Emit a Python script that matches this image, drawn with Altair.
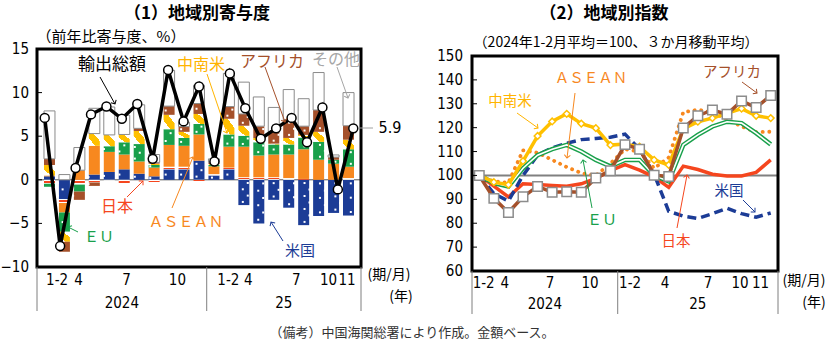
import math
import altair as alt
import pandas as pd

# ---------------- Left panel: contributions (% pt), 2024/1-2 ... 2025/11 ----------------
periods = list(range(21))
left_categories = ["米国", "日本", "ASEAN", "EU", "中南米", "アフリカ", "その他"]
us     = [0.4, -2.2, 0.0, 0.6, 0.9, 1.2, 0.7, 0.4, 1.2, 1.2, 2.2, 0.5, 1.2, -2.9, -5.0, -2.3, -3.2, -5.2, -4.15, -3.8, -4.1]
jp     = [-0.45, -0.45, -0.55, -0.3, -0.1, -0.5, 0.0, -0.3, 0.3, 0.3, -0.2, 0.15, 0.2, 0.3, 0.3, 0.3, 0.2, 0.1, 0.0, 0.0, 0.2]
asean  = [0.1, -1.1, 1.1, 3.3, 2.3, 1.7, 1.4, 1.0, 2.5, 2.4, 3.0, 0.9, 2.4, 3.5, 2.5, 2.6, 2.7, 3.4, 2.3, 1.85, 1.3]
eu     = [-0.35, -2.2, -0.8, 0.0, 0.65, 1.4, 2.0, 0.3, 1.8, 0.9, 1.2, 0.15, 1.4, 1.25, 1.5, 1.15, 1.15, 1.35, 2.05, 0.45, 2.0]
latam  = [1.2, -1.15, 0.0, 1.4, 1.3, 0.9, 1.5, 0.15, 1.65, 0.7, 1.15, 0.1, 1.8, 1.15, 0.5, 0.1, 0.75, 0.3, 1.15, 0.0, 1.1]
africa = [0.7, -1.15, -0.95, -0.4, 0.0, 0.0, 0.3, 0.15, 1.0, 0.6, 1.2, 0.2, 1.4, 1.35, 1.35, 1.35, 2.1, 1.0, 2.5, 0.3, 1.6]
other  = [5.5, 0.6, 2.6, 2.9, 3.2, 2.2, 2.7, 0.9, 4.1, 0.5, 2.1, 0.4, 3.8, 3.65, 3.35, 2.8, 3.45, 3.15, 4.3, 0.25, 3.8]
total  = [7.1, -7.6, 1.35, 7.5, 8.4, 7.0, 8.7, 2.4, 12.6, 6.7, 10.7, 2.1, 12.2, 8.2, 4.7, 5.9, 7.1, 4.3, 8.3, -1.1, 5.9]

# ---------------- Right panel: index (2024/1-2 = 100, 3-month moving average) ----------------
idx_us     = [100, 92.4, 89.3, 100.0, 108.5, 111.5, 113.5, 115.0, 115.5, 116.0, 117.3, 111.0, 100.5, 85.0, 83.0, 82.0, 84.0, 86.3, 84.0, 82.5, 84.3]
idx_jp     = [100, 95.5, 91.0, 96.5, 96.2, 95.8, 95.5, 96.5, 98.8, 102.0, 104.5, 102.2, 99.4, 95.0, 103.9, 102.5, 100.5, 99.8, 99.8, 101.3, 106.5]
idx_asean  = [100, 97.5, 97.0, 110.5, 109.5, 106.5, 103.5, 101.0, 100.0, 105.0, 111.0, 110.0, 103.0, 107.5, 126.5, 127.5, 126.5, 123.5, 120.5, 118.2, 118.3]
idx_eu     = [100, 96.8, 95.4, 103.0, 108.5, 111.0, 112.8, 110.0, 106.5, 103.8, 106.5, 106.5, 100.0, 97.5, 112.8, 117.0, 120.5, 122.5, 121.9, 117.7, 113.0]
idx_latam  = [100, 97.2, 96.1, 106.0, 116.5, 122.6, 125.8, 121.7, 119.8, 112.7, 113.2, 112.0, 106.5, 104.4, 119.5, 122.5, 124.0, 126.0, 128.0, 125.0, 124.0]
idx_africa = [100, 90.4, 84.5, 91.1, 95.4, 93.0, 93.2, 93.0, 98.9, 102.0, 112.9, 111.0, 100.1, 99.6, 119.9, 125.0, 127.4, 125.6, 131.2, 128.4, 133.5]

# ---------------- Axis text ----------------
month_labels = ["1-2", "4", "7", "10", "1-2", "4", "7", "10", "11"]
left_month_pos = [0.8, 2.2, 5.3, 8.6, 11.9, 13.2, 16.3, 18.4, 19.6]
right_month_pos = [0.3, 1.75, 4.85, 7.6, 10.35, 12.75, 15.7, 17.9, 19.3]
year_labels = ["2024", "25"]
left_year_div = [-0.5, 10.5, 20.5]
right_year_div = [-0.5, 9.5, 20.5]
left_yticks = [-10, -5, 0, 5, 10, 15]
right_yticks = [60, 70, 80, 90, 100, 110, 120, 130, 140, 150]

# ---------------- Styling / layout ----------------
W, H = 829, 342
LX0, LX1, LY0, LY1 = 37, 361, 267, 49
RX0, RX1, RY0, RY1 = 472, 778, 271, 56
CJK = "Noto Sans CJK JP"
NUM = "Liberation Sans Narrow, Arial Narrow, DejaVu Sans Condensed, Liberation Sans, sans-serif"
NAVY, RED, ORANGE, GREEN, YELLOW, BROWN, GRAY = "#1c3c96", "#f5461e", "#f7881f", "#19a04b", "#ffc000", "#a5502a", "#a6a6a6"

XL = alt.Scale(domain=[-0.5, 20.5], range=[LX0, LX1])
YL = alt.Scale(domain=[-10, 15], range=[LY0, LY1])
XR = alt.Scale(domain=[-0.5, 20.5], range=[RX0, RX1])
YR = alt.Scale(domain=[60, 150], range=[RY0, RY1])

series_left = [us, jp, asean, eu, latam, africa, other]
rows = []
for k, (name, vals) in enumerate(zip(left_categories, series_left)):
    for i, v in zip(periods, vals):
        if v != 0:
            rows.append({"idx": i, "cat": name, "order": k, "value": v})
df_left = pd.DataFrame(rows)
df_total = pd.DataFrame({"idx": periods, "total": total})

stacked = alt.Chart(df_left).transform_stack(
    stack="value", groupby=["idx"], as_=["v0", "v1"],
    sort=[alt.SortField(field="order", order="ascending")])


def grad(stops, x1=0, y1=0, x2=0, y2=1):
    return alt.LinearGradient(gradient="linear", x1=x1, y1=y1, x2=x2, y2=y2,
                              stops=[alt.GradientStop(offset=o, color=c) for o, c in stops])


def seg(cat, **kw):
    return stacked.transform_filter(alt.datum.cat == cat).mark_bar(size=11, **kw).encode(
        x=alt.X("idx:Q", scale=XL, axis=None),
        y=alt.Y("v0:Q", scale=YL, axis=None),
        y2="v1:Q")


jp_fill = grad([(0, "white"), (0.3, "white"), (0.3, RED), (0.7, RED), (0.7, "white"), (1, "white")])
la_fill = grad([(0, "white"), (0.3, "white"), (0.3, YELLOW), (0.7, YELLOW), (0.7, "white"), (1, "white")],
               x1=0, y1=1, x2=1, y2=0)

bars = [
    seg("米国", fill=NAVY),
    seg("日本", fill=jp_fill),
    seg("ASEAN", fill=ORANGE),
    seg("EU", fill=GREEN),
    seg("中南米", fill=la_fill),
    seg("アフリカ", fill=BROWN),
    seg("その他", fill="white", stroke="#8a8a8a", strokeWidth=1),
]

dots = stacked.transform_filter(
    alt.FieldOneOfPredicate(field="cat", oneOf=["米国", "EU", "アフリカ"])
).transform_calculate(
    lo="min(datum.v0, datum.v1)", hi="max(datum.v0, datum.v1)"
).transform_calculate(
    n="(datum.hi - datum.lo) < 0.3 ? 0 : max(1, round((datum.hi - datum.lo) / 0.8))"
).transform_calculate(
    seq="sequence(0, datum.n)"
).transform_flatten(["seq"]).transform_calculate(
    dy="datum.lo + (datum.seq + 0.5) * (datum.hi - datum.lo) / datum.n",
    dx="datum.idx + (datum.seq % 2 == 0 ? -0.16 : 0.16)"
).mark_square(size=4, color="white", opacity=1).encode(
    x=alt.X("dx:Q", scale=XL, axis=None), y=alt.Y("dy:Q", scale=YL, axis=None))

zero_line = alt.Chart(pd.DataFrame({"v": [0]})).mark_rule(color="#555555", strokeWidth=1).encode(
    x=alt.value(LX0), x2=alt.value(LX1), y=alt.Y("v:Q", scale=YL, axis=None))

total_line = alt.Chart(df_total).mark_line(color="black", strokeWidth=3.5).encode(
    x=alt.X("idx:Q", scale=XL, axis=None), y=alt.Y("total:Q", scale=YL, axis=None))
total_pts = alt.Chart(df_total).mark_point(filled=True, fill="white", stroke="black", strokeWidth=1.5,
                                           size=80, opacity=1).encode(
    x=alt.X("idx:Q", scale=XL, axis=None), y=alt.Y("total:Q", scale=YL, axis=None))

# ---------------- Right panel ----------------
rrows = []
for name, vals in [("US", idx_us), ("JP", idx_jp), ("ASEAN", idx_asean), ("EU", idx_eu),
                   ("LATAM", idx_latam), ("AFRICA", idx_africa)]:
    for i, v in zip(periods, vals):
        rrows.append({"idx": i, "s": name, "v": v})
df_right = pd.DataFrame(rrows)


def rchart(name):
    return alt.Chart(df_right).transform_filter(alt.datum.s == name)


def renc():
    return dict(x=alt.X("idx:Q", scale=XR, axis=None), y=alt.Y("v:Q", scale=YR, axis=None))


base100 = alt.Chart(pd.DataFrame({"v": [100]})).mark_rule(color="#808080", strokeWidth=2).encode(
    x=alt.value(RX0), x2=alt.value(RX1), y=alt.Y("v:Q", scale=YR, axis=None))

right_layers = [
    base100,
    rchart("JP").mark_line(color=RED, strokeWidth=3.5).encode(**renc()),
    rchart("US").mark_line(color=NAVY, strokeWidth=3.5, strokeDash=[9, 5]).encode(**renc()),
    rchart("ASEAN").mark_line(color=ORANGE, strokeWidth=3.8, strokeDash=[0.1, 6.5], strokeCap="round").encode(**renc()),
    rchart("EU").mark_line(color=GREEN, strokeWidth=4.5).encode(**renc()),
    rchart("EU").mark_line(color="white", strokeWidth=1.6).encode(**renc()),
    rchart("LATAM").mark_line(color=YELLOW, strokeWidth=3.5).encode(**renc()),
    rchart("LATAM").mark_point(shape="diamond", filled=True, fill="white", stroke=YELLOW,
                               strokeWidth=1.5, size=45, opacity=1).encode(**renc()),
    rchart("AFRICA").mark_line(color=BROWN, strokeWidth=3.5).encode(**renc()),
    rchart("AFRICA").mark_point(shape="square", filled=True, fill="white", stroke="#8c8c8c",
                                strokeWidth=1.5, size=90, opacity=1).encode(**renc()),
]

# ---------------- Frames, ticks, axis text ----------------
one = pd.DataFrame({"a": [0]})


def frame(x0, x1, y0, y1):
    return alt.Chart(one).mark_rect(fillOpacity=0, stroke="black", strokeWidth=3).encode(
        x=alt.value(x0), x2=alt.value(x1), y=alt.value(y1), y2=alt.value(y0))


def yticks(vals, ys, x0, xlab):
    d = pd.DataFrame({"v": vals})
    ticks = alt.Chart(d).mark_rule(color="black", strokeWidth=1).encode(
        x=alt.value(x0), x2=alt.value(x0 + 5), y=alt.Y("v:Q", scale=ys, axis=None))
    labs = alt.Chart(d).mark_text(align="right", baseline="middle", font=NUM, fontSize=15,
                                  color="black").encode(
        x=alt.value(xlab), y=alt.Y("v:Q", scale=ys, axis=None), text=alt.Text("v:Q"))
    return [ticks, labs]


def xaxis(pos, xs, divs, ytop, ylab, yyear, ybottom):
    d = pd.DataFrame({"p": pos, "t": month_labels})
    labs = alt.Chart(d).mark_text(align="center", baseline="middle", font=NUM, fontSize=15,
                                  color="black").encode(
        x=alt.X("p:Q", scale=xs, axis=None), y=alt.value(ylab), text="t:N")
    centers = [(divs[0] + divs[1]) / 2, (divs[1] + divs[2]) / 2]
    dy = pd.DataFrame({"p": centers, "t": year_labels})
    ylabs = alt.Chart(dy).mark_text(align="center", baseline="middle", font=NUM, fontSize=15,
                                    color="black").encode(
        x=alt.X("p:Q", scale=xs, axis=None), y=alt.value(yyear), text="t:N")
    dv = alt.Chart(pd.DataFrame({"d": divs})).mark_rule(color="#7f7f7f", strokeWidth=1).encode(
        x=alt.X("d:Q", scale=xs, axis=None), y=alt.value(ytop), y2=alt.value(ybottom))
    return [labs, ylabs, dv]


def text_layer(items, font, weight="normal"):
    d = pd.DataFrame(items, columns=["t", "x", "y", "c", "s"])
    return alt.Chart(d).mark_text(font=font, fontWeight=weight, align="center", baseline="middle").encode(
        x=alt.X("x:Q", scale=None), y=alt.Y("y:Q", scale=None), text="t:N",
        color=alt.Color("c:N", scale=None), size=alt.Size("s:Q", scale=None))


cjk_texts = [
    ("（1）地域別寄与度", 197, 14, "black", 17),
    ("（2）地域別指数", 604, 14, "black", 17),
    ("（前年比寄与度、%）", 111, 37, "black", 15),
    ("（2024年1-2月平均＝100、３か月移動平均）", 616, 43, "black", 14),
    ("(期/月)", 389, 275, "black", 14),
    ("(年)", 401, 297, "black", 14),
    ("(期/月)", 804, 281, "black", 14),
    ("(年)", 814, 303, "black", 14),
    ("（備考）中国海関総署により作成。金額ベース。", 412, 333, "#333333", 13),
    ("輸出総額", 112, 65, "black", 17),
    ("中南米", 201, 65, "#ffb400", 16),
    ("アフリカ", 272, 62, BROWN, 16),
    ("その他", 336, 60, GRAY, 16),
    ("日本", 117, 207, RED, 16),
    ("ＡＳＥＡＮ", 186, 222, ORANGE, 15),
    ("ＥＵ", 99, 237, GREEN, 15),
    ("米国", 300, 251, NAVY, 15),
    ("ＡＳＥＡＮ", 591, 79, ORANGE, 14.5),
    ("中南米", 510, 102, "#ffb400", 14.5),
    ("アフリカ", 732, 73, BROWN, 14.5),
    ("ＥＵ", 602, 220, GREEN, 15),
    ("日本", 676, 242, RED, 14.5),
    ("米国", 729, 192, NAVY, 14.5),
]
title_items = [t for t in cjk_texts if t[0].startswith("（1）") or t[0].startswith("（2）")]
plain_items = [t for t in cjk_texts if t not in title_items]
num_items = [("5.9", 390, 128, "black", 16)]

# arrows: start (x, y) -> tip (x, y)
arrows = [
    (100, 77, 115, 104, "black"),
    (207, 74, 227, 133, "#ffb400"),
    (265, 67, 285, 122, BROWN),
    (337, 67, 348, 98, GRAY),
    (127, 197, 143, 181, RED),
    (172, 208, 193, 157, ORANGE),
    (78, 232, 68, 227, GREEN),
    (283, 241, 271, 222, NAVY),
    (575, 93, 567, 158, ORANGE),
    (517, 113, 538, 128, "#ffb400"),
    (742, 82, 757, 93, BROWN),
    (592, 208, 583, 160, GREEN),
    (677, 228, 687, 175, RED),
    (743, 200, 755, 212, NAVY),
]
arr_df = pd.DataFrame(arrows, columns=["x0", "y0", "x1", "y1", "c"])
arr_df["ang"] = [(math.degrees(math.atan2(x1 - x0, -(y1 - y0))) + 360) % 360
                 for x0, y0, x1, y1 in zip(arr_df.x0, arr_df.y0, arr_df.x1, arr_df.y1)]
arrow_lines = alt.Chart(arr_df).mark_rule(strokeWidth=1).encode(
    x=alt.X("x0:Q", scale=None), y=alt.Y("y0:Q", scale=None),
    x2="x1:Q", y2="y1:Q", color=alt.Color("c:N", scale=None))
arrow_heads = alt.Chart(arr_df).mark_point(shape="M-1,1L0,0L1,1", filled=False, size=36,
                                           strokeWidth=1, opacity=1).encode(
    x=alt.X("x1:Q", scale=None), y=alt.Y("y1:Q", scale=None),
    color=alt.Color("c:N", scale=None), angle=alt.Angle("ang:Q", scale=None))
connector = alt.Chart(one).mark_rule(color="#a0a0a0", strokeWidth=1).encode(
    x=alt.value(359), x2=alt.value(373), y=alt.value(128))

layers = []
layers += [zero_line] + bars + [dots, total_line, total_pts]
layers += right_layers
layers += [frame(LX0, LX1, LY0, LY1), frame(RX0, RX1, RY0, RY1)]
layers += yticks(left_yticks, YL, LX0, 29)
layers += yticks(right_yticks, YR, RX0, 463)
layers += xaxis(left_month_pos, XL, left_year_div, LY0, 280, 303, 311)
layers += xaxis(right_month_pos, XR, right_year_div, RY0, 283, 304, 314)
layers += [arrow_lines, arrow_heads, connector]
layers += [text_layer(title_items, CJK, "bold"), text_layer(plain_items, CJK), text_layer(num_items, NUM)]

chart = alt.layer(*layers).properties(
    width=W, height=H, padding=0, autosize=alt.AutoSizeParams(type="none"),
    background="white"
).resolve_scale(
    x="independent", y="independent", color="independent", size="independent", angle="independent"
).configure_view(strokeWidth=0)

chart.save("out.html", embed_options={"renderer": "svg", "actions": False})
